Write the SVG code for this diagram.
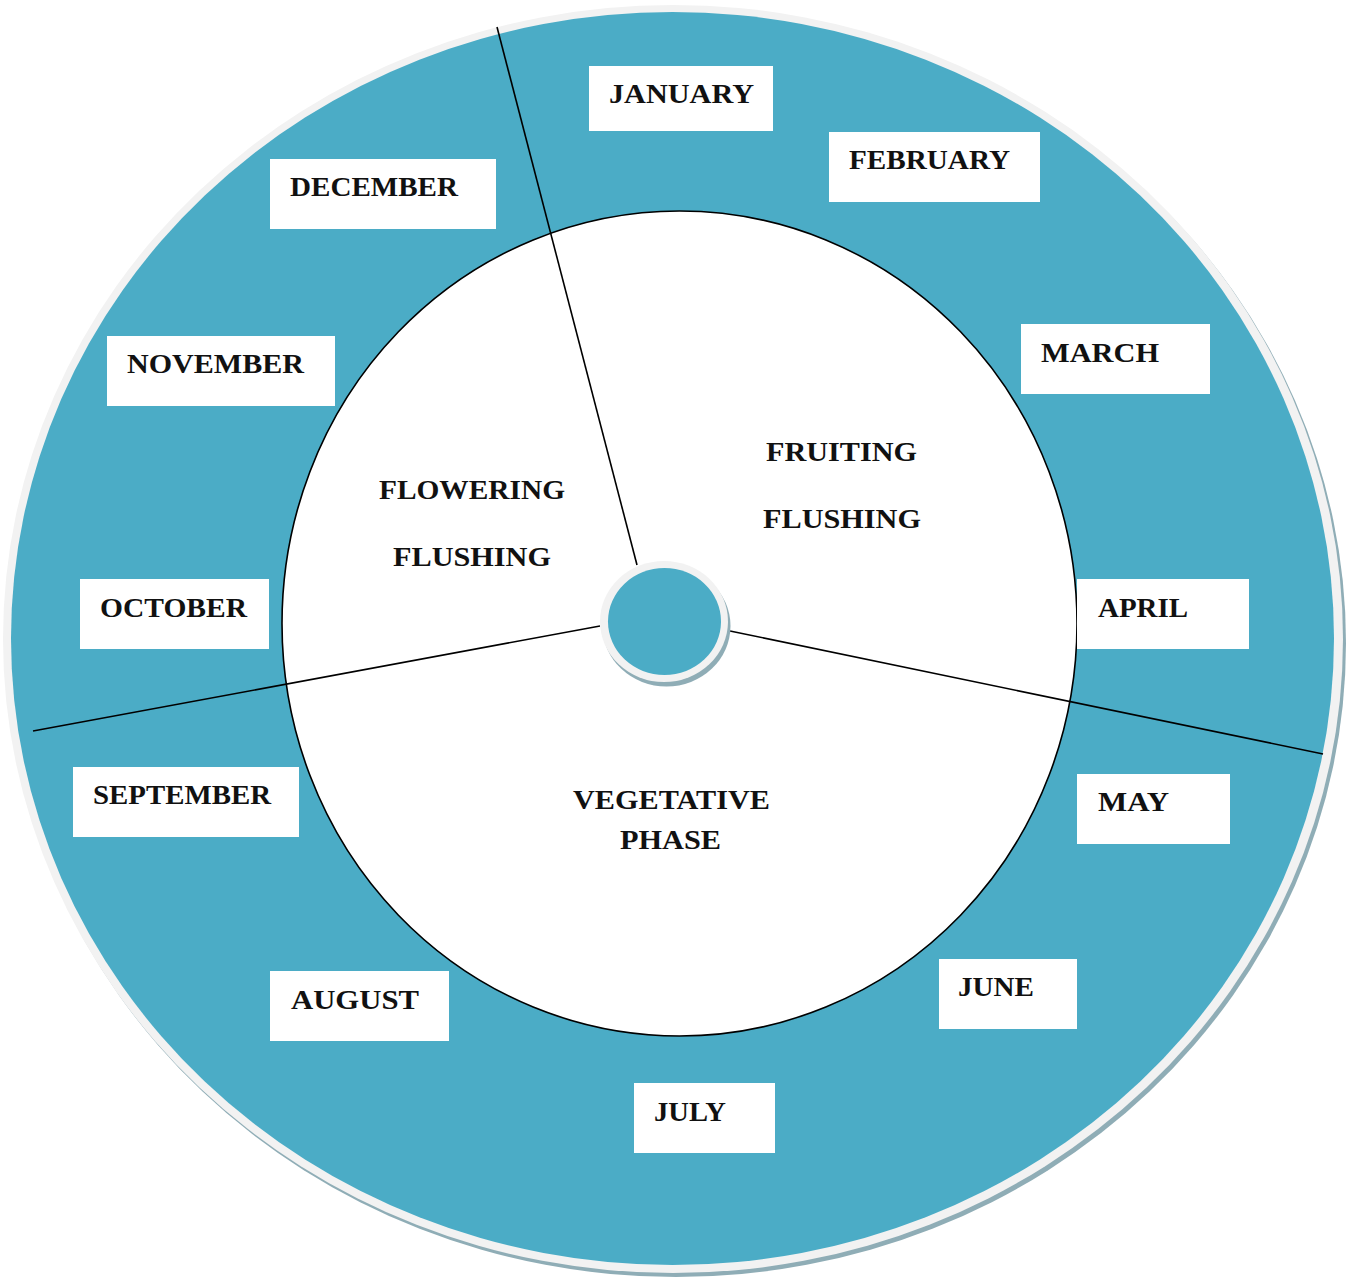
<svg xmlns="http://www.w3.org/2000/svg" width="1351" height="1278" viewBox="0 0 1351 1278">
  <style>
    .lbl { font-family: "Liberation Serif", "Times New Roman", serif; font-weight: bold; font-size: 28px; fill: #111; }
    .box { fill: #ffffff; }
    .teal { fill: #4bacc6; }
    .rim { fill: #f2f2f2; }
    .shadow { fill: #8fadb6; }
    .div { stroke: #000; stroke-width: 1.6; fill: none; }
  </style>

  <rect width="1351" height="1278" fill="#ffffff"/>

  <!-- outer ring -->
  <g id="outer-ring">
    <ellipse class="shadow" cx="676" cy="643" rx="670" ry="634"/>
    <ellipse class="rim" cx="673" cy="639" rx="670" ry="634"/>
    <ellipse class="teal" cx="672.5" cy="638.5" rx="661.5" ry="626.5"/>
  </g>

  <!-- inner disc -->
  <g id="inner-disc">
    <ellipse cx="679.5" cy="623.5" rx="397.5" ry="412.5" fill="#ffffff" stroke="#000" stroke-width="1.6"/>
  </g>

  <!-- phase dividers -->
  <g id="connectors">
    <line class="div" x1="497" y1="27" x2="637" y2="565"/>
    <line class="div" x1="33" y1="731" x2="600" y2="626"/>
    <line class="div" x1="730" y1="631" x2="1323" y2="754"/>
  </g>

  <!-- hub -->
  <g id="hub">
    <ellipse class="shadow" cx="666.5" cy="626" rx="64" ry="60.5"/>
    <ellipse class="rim" cx="664" cy="621.5" rx="64" ry="60.5"/>
    <ellipse class="teal" cx="664.5" cy="621.5" rx="56.5" ry="53.5"/>
  </g>

  <!-- phase labels -->
  <g id="phase-fruiting">
    <text class="lbl" x="841.5" y="461" text-anchor="middle" textLength="151" lengthAdjust="spacingAndGlyphs">FRUITING</text>
    <text class="lbl" x="842" y="528" text-anchor="middle" textLength="158" lengthAdjust="spacingAndGlyphs">FLUSHING</text>
  </g>
  <g id="phase-flowering">
    <text class="lbl" x="472" y="499" text-anchor="middle" textLength="186" lengthAdjust="spacingAndGlyphs">FLOWERING</text>
    <text class="lbl" x="472" y="566" text-anchor="middle" textLength="158" lengthAdjust="spacingAndGlyphs">FLUSHING</text>
  </g>
  <g id="phase-vegetative">
    <text class="lbl" x="671.5" y="809" text-anchor="middle" textLength="197" lengthAdjust="spacingAndGlyphs">VEGETATIVE</text>
    <text class="lbl" x="670.5" y="849" text-anchor="middle" textLength="101" lengthAdjust="spacingAndGlyphs">PHASE</text>
  </g>

  <!-- month labels -->
  <g id="month-january">
    <rect class="box" x="589" y="66" width="184" height="65"/>
    <text class="lbl" x="609" y="103" textLength="145" lengthAdjust="spacingAndGlyphs">JANUARY</text>
  </g>
  <g id="month-february">
    <rect class="box" x="829" y="132" width="211" height="70"/>
    <text class="lbl" x="849" y="169" textLength="161" lengthAdjust="spacingAndGlyphs">FEBRUARY</text>
  </g>
  <g id="month-march">
    <rect class="box" x="1021" y="324" width="189" height="70"/>
    <text class="lbl" x="1041" y="362" textLength="118" lengthAdjust="spacingAndGlyphs">MARCH</text>
  </g>
  <g id="month-april">
    <rect class="box" x="1077" y="579" width="172" height="70"/>
    <text class="lbl" x="1098" y="617" textLength="90" lengthAdjust="spacingAndGlyphs">APRIL</text>
  </g>
  <g id="month-may">
    <rect class="box" x="1077" y="774" width="153" height="70"/>
    <text class="lbl" x="1098" y="811" textLength="71" lengthAdjust="spacingAndGlyphs">MAY</text>
  </g>
  <g id="month-june">
    <rect class="box" x="939" y="959" width="138" height="70"/>
    <text class="lbl" x="958" y="996" textLength="76" lengthAdjust="spacingAndGlyphs">JUNE</text>
  </g>
  <g id="month-july">
    <rect class="box" x="634" y="1083" width="141" height="70"/>
    <text class="lbl" x="654" y="1121" textLength="72" lengthAdjust="spacingAndGlyphs">JULY</text>
  </g>
  <g id="month-august">
    <rect class="box" x="270" y="971" width="179" height="70"/>
    <text class="lbl" x="291" y="1009" textLength="128" lengthAdjust="spacingAndGlyphs">AUGUST</text>
  </g>
  <g id="month-september">
    <rect class="box" x="73" y="767" width="226" height="70"/>
    <text class="lbl" x="93" y="804" textLength="178" lengthAdjust="spacingAndGlyphs">SEPTEMBER</text>
  </g>
  <g id="month-october">
    <rect class="box" x="80" y="579" width="189" height="70"/>
    <text class="lbl" x="100" y="617" textLength="147" lengthAdjust="spacingAndGlyphs">OCTOBER</text>
  </g>
  <g id="month-november">
    <rect class="box" x="107" y="336" width="228" height="70"/>
    <text class="lbl" x="127" y="373" textLength="177" lengthAdjust="spacingAndGlyphs">NOVEMBER</text>
  </g>
  <g id="month-december">
    <rect class="box" x="270" y="159" width="226" height="70"/>
    <text class="lbl" x="290" y="196" textLength="168" lengthAdjust="spacingAndGlyphs">DECEMBER</text>
  </g>
</svg>
